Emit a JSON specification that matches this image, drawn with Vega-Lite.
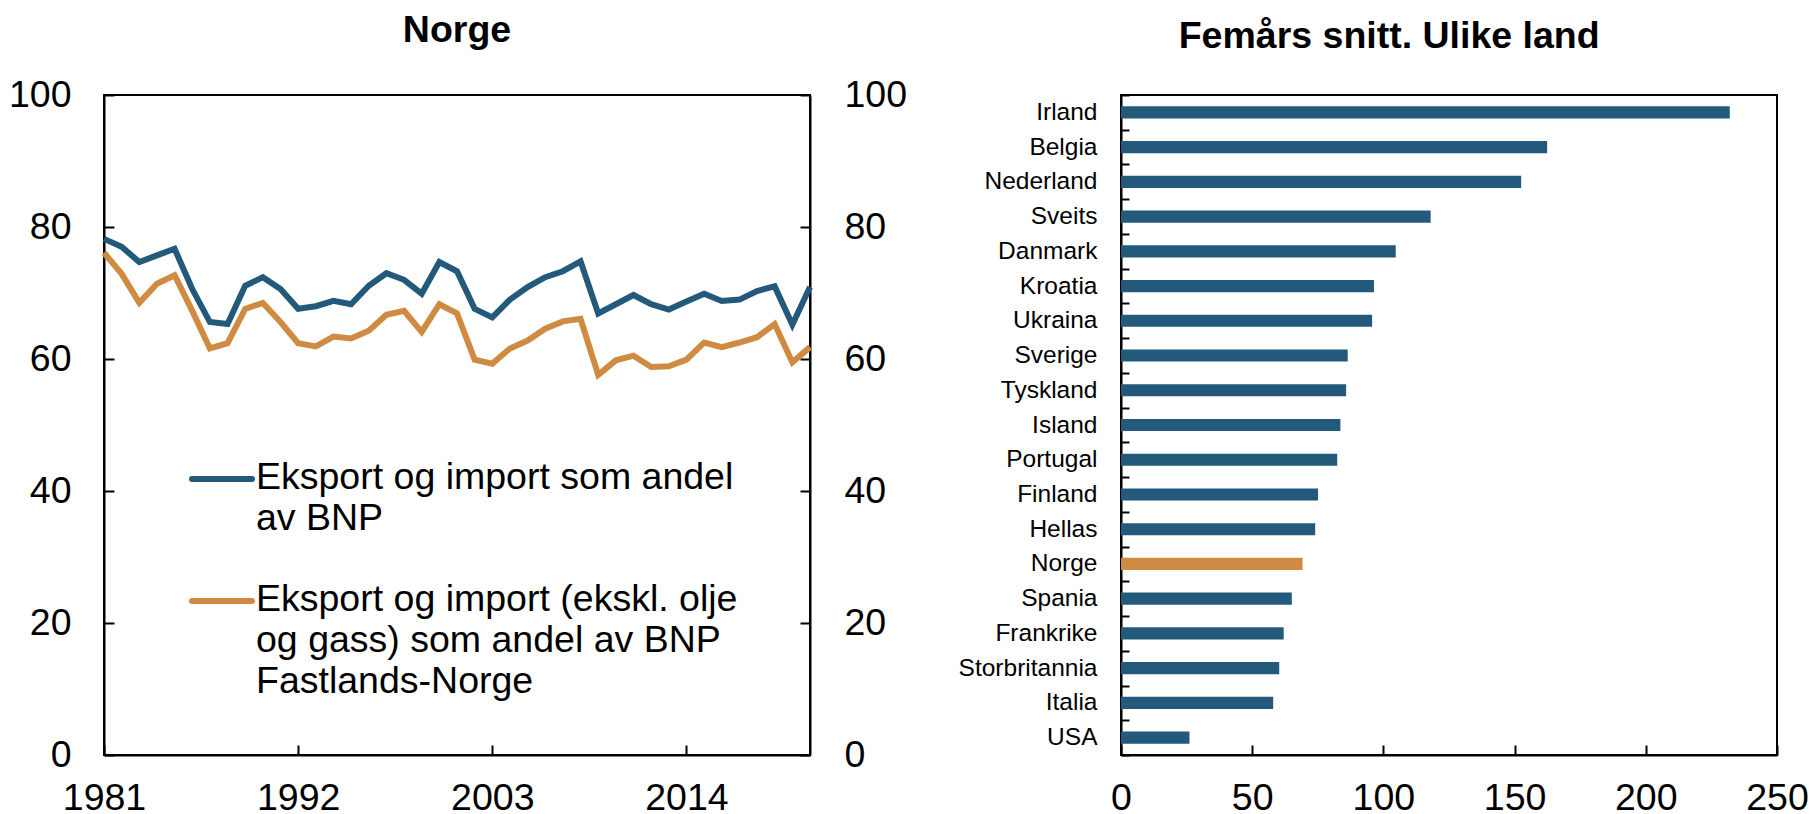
{
  "$schema": "https://vega.github.io/schema/vega-lite/v6.json",
  "padding": {"left": 7, "top": 10, "right": 0, "bottom": 0},
  "background": "white",
  "spacing": 49,
  "config": {
    "font": "Liberation Sans",
    "view": {"stroke": "black", "strokeWidth": 2},
    "axis": {"domainColor": "black", "domainWidth": 2, "tickColor": "black", "tickWidth": 2, "labelColor": "black", "grid": false, "title": null, "labelFont": "Liberation Sans"},
    "title": {"fontSize": 37.5, "fontWeight": "bold", "color": "black", "font": "Liberation Sans"},
    "style": {"guide-label": {"lineHeight": 41}}
  },
  "datasets": {
    "norge": [
      {"ar": 1981, "serie": "Eksport og import som andel av BNP", "verdi": 78.2},
      {"ar": 1982, "serie": "Eksport og import som andel av BNP", "verdi": 77.0},
      {"ar": 1983, "serie": "Eksport og import som andel av BNP", "verdi": 74.7},
      {"ar": 1984, "serie": "Eksport og import som andel av BNP", "verdi": 75.7},
      {"ar": 1985, "serie": "Eksport og import som andel av BNP", "verdi": 76.7},
      {"ar": 1986, "serie": "Eksport og import som andel av BNP", "verdi": 70.6},
      {"ar": 1987, "serie": "Eksport og import som andel av BNP", "verdi": 65.6},
      {"ar": 1988, "serie": "Eksport og import som andel av BNP", "verdi": 65.3},
      {"ar": 1989, "serie": "Eksport og import som andel av BNP", "verdi": 71.1},
      {"ar": 1990, "serie": "Eksport og import som andel av BNP", "verdi": 72.4},
      {"ar": 1991, "serie": "Eksport og import som andel av BNP", "verdi": 70.6},
      {"ar": 1992, "serie": "Eksport og import som andel av BNP", "verdi": 67.6},
      {"ar": 1993, "serie": "Eksport og import som andel av BNP", "verdi": 68.0},
      {"ar": 1994, "serie": "Eksport og import som andel av BNP", "verdi": 68.8},
      {"ar": 1995, "serie": "Eksport og import som andel av BNP", "verdi": 68.3},
      {"ar": 1996, "serie": "Eksport og import som andel av BNP", "verdi": 71.1},
      {"ar": 1997, "serie": "Eksport og import som andel av BNP", "verdi": 73.0},
      {"ar": 1998, "serie": "Eksport og import som andel av BNP", "verdi": 72.0},
      {"ar": 1999, "serie": "Eksport og import som andel av BNP", "verdi": 69.9},
      {"ar": 2000, "serie": "Eksport og import som andel av BNP", "verdi": 74.7},
      {"ar": 2001, "serie": "Eksport og import som andel av BNP", "verdi": 73.3},
      {"ar": 2002, "serie": "Eksport og import som andel av BNP", "verdi": 67.6},
      {"ar": 2003, "serie": "Eksport og import som andel av BNP", "verdi": 66.3},
      {"ar": 2004, "serie": "Eksport og import som andel av BNP", "verdi": 69.0},
      {"ar": 2005, "serie": "Eksport og import som andel av BNP", "verdi": 70.9},
      {"ar": 2006, "serie": "Eksport og import som andel av BNP", "verdi": 72.4},
      {"ar": 2007, "serie": "Eksport og import som andel av BNP", "verdi": 73.3},
      {"ar": 2008, "serie": "Eksport og import som andel av BNP", "verdi": 74.8},
      {"ar": 2009, "serie": "Eksport og import som andel av BNP", "verdi": 66.9},
      {"ar": 2010, "serie": "Eksport og import som andel av BNP", "verdi": 68.3},
      {"ar": 2011, "serie": "Eksport og import som andel av BNP", "verdi": 69.7},
      {"ar": 2012, "serie": "Eksport og import som andel av BNP", "verdi": 68.3},
      {"ar": 2013, "serie": "Eksport og import som andel av BNP", "verdi": 67.5},
      {"ar": 2014, "serie": "Eksport og import som andel av BNP", "verdi": 68.7},
      {"ar": 2015, "serie": "Eksport og import som andel av BNP", "verdi": 69.9},
      {"ar": 2016, "serie": "Eksport og import som andel av BNP", "verdi": 68.8},
      {"ar": 2017, "serie": "Eksport og import som andel av BNP", "verdi": 69.0},
      {"ar": 2018, "serie": "Eksport og import som andel av BNP", "verdi": 70.3},
      {"ar": 2019, "serie": "Eksport og import som andel av BNP", "verdi": 71.0},
      {"ar": 2020, "serie": "Eksport og import som andel av BNP", "verdi": 65.2},
      {"ar": 2021, "serie": "Eksport og import som andel av BNP", "verdi": 70.9},
      {"ar": 1981, "serie": "Eksport og import (ekskl. olje og gass) som andel av BNP Fastlands-Norge", "verdi": 76.1},
      {"ar": 1982, "serie": "Eksport og import (ekskl. olje og gass) som andel av BNP Fastlands-Norge", "verdi": 72.9},
      {"ar": 1983, "serie": "Eksport og import (ekskl. olje og gass) som andel av BNP Fastlands-Norge", "verdi": 68.5},
      {"ar": 1984, "serie": "Eksport og import (ekskl. olje og gass) som andel av BNP Fastlands-Norge", "verdi": 71.4},
      {"ar": 1985, "serie": "Eksport og import (ekskl. olje og gass) som andel av BNP Fastlands-Norge", "verdi": 72.7},
      {"ar": 1986, "serie": "Eksport og import (ekskl. olje og gass) som andel av BNP Fastlands-Norge", "verdi": 67.3},
      {"ar": 1987, "serie": "Eksport og import (ekskl. olje og gass) som andel av BNP Fastlands-Norge", "verdi": 61.6},
      {"ar": 1988, "serie": "Eksport og import (ekskl. olje og gass) som andel av BNP Fastlands-Norge", "verdi": 62.4},
      {"ar": 1989, "serie": "Eksport og import (ekskl. olje og gass) som andel av BNP Fastlands-Norge", "verdi": 67.6},
      {"ar": 1990, "serie": "Eksport og import (ekskl. olje og gass) som andel av BNP Fastlands-Norge", "verdi": 68.5},
      {"ar": 1991, "serie": "Eksport og import (ekskl. olje og gass) som andel av BNP Fastlands-Norge", "verdi": 65.6},
      {"ar": 1992, "serie": "Eksport og import (ekskl. olje og gass) som andel av BNP Fastlands-Norge", "verdi": 62.4},
      {"ar": 1993, "serie": "Eksport og import (ekskl. olje og gass) som andel av BNP Fastlands-Norge", "verdi": 61.9},
      {"ar": 1994, "serie": "Eksport og import (ekskl. olje og gass) som andel av BNP Fastlands-Norge", "verdi": 63.4},
      {"ar": 1995, "serie": "Eksport og import (ekskl. olje og gass) som andel av BNP Fastlands-Norge", "verdi": 63.1},
      {"ar": 1996, "serie": "Eksport og import (ekskl. olje og gass) som andel av BNP Fastlands-Norge", "verdi": 64.3},
      {"ar": 1997, "serie": "Eksport og import (ekskl. olje og gass) som andel av BNP Fastlands-Norge", "verdi": 66.7},
      {"ar": 1998, "serie": "Eksport og import (ekskl. olje og gass) som andel av BNP Fastlands-Norge", "verdi": 67.3},
      {"ar": 1999, "serie": "Eksport og import (ekskl. olje og gass) som andel av BNP Fastlands-Norge", "verdi": 64.1},
      {"ar": 2000, "serie": "Eksport og import (ekskl. olje og gass) som andel av BNP Fastlands-Norge", "verdi": 68.3},
      {"ar": 2001, "serie": "Eksport og import (ekskl. olje og gass) som andel av BNP Fastlands-Norge", "verdi": 66.9},
      {"ar": 2002, "serie": "Eksport og import (ekskl. olje og gass) som andel av BNP Fastlands-Norge", "verdi": 59.9},
      {"ar": 2003, "serie": "Eksport og import (ekskl. olje og gass) som andel av BNP Fastlands-Norge", "verdi": 59.3},
      {"ar": 2004, "serie": "Eksport og import (ekskl. olje og gass) som andel av BNP Fastlands-Norge", "verdi": 61.6},
      {"ar": 2005, "serie": "Eksport og import (ekskl. olje og gass) som andel av BNP Fastlands-Norge", "verdi": 62.8},
      {"ar": 2006, "serie": "Eksport og import (ekskl. olje og gass) som andel av BNP Fastlands-Norge", "verdi": 64.6},
      {"ar": 2007, "serie": "Eksport og import (ekskl. olje og gass) som andel av BNP Fastlands-Norge", "verdi": 65.7},
      {"ar": 2008, "serie": "Eksport og import (ekskl. olje og gass) som andel av BNP Fastlands-Norge", "verdi": 66.1},
      {"ar": 2009, "serie": "Eksport og import (ekskl. olje og gass) som andel av BNP Fastlands-Norge", "verdi": 57.6},
      {"ar": 2010, "serie": "Eksport og import (ekskl. olje og gass) som andel av BNP Fastlands-Norge", "verdi": 59.8},
      {"ar": 2011, "serie": "Eksport og import (ekskl. olje og gass) som andel av BNP Fastlands-Norge", "verdi": 60.5},
      {"ar": 2012, "serie": "Eksport og import (ekskl. olje og gass) som andel av BNP Fastlands-Norge", "verdi": 58.8},
      {"ar": 2013, "serie": "Eksport og import (ekskl. olje og gass) som andel av BNP Fastlands-Norge", "verdi": 58.9},
      {"ar": 2014, "serie": "Eksport og import (ekskl. olje og gass) som andel av BNP Fastlands-Norge", "verdi": 59.9},
      {"ar": 2015, "serie": "Eksport og import (ekskl. olje og gass) som andel av BNP Fastlands-Norge", "verdi": 62.5},
      {"ar": 2016, "serie": "Eksport og import (ekskl. olje og gass) som andel av BNP Fastlands-Norge", "verdi": 61.8},
      {"ar": 2017, "serie": "Eksport og import (ekskl. olje og gass) som andel av BNP Fastlands-Norge", "verdi": 62.5},
      {"ar": 2018, "serie": "Eksport og import (ekskl. olje og gass) som andel av BNP Fastlands-Norge", "verdi": 63.3},
      {"ar": 2019, "serie": "Eksport og import (ekskl. olje og gass) som andel av BNP Fastlands-Norge", "verdi": 65.3},
      {"ar": 2020, "serie": "Eksport og import (ekskl. olje og gass) som andel av BNP Fastlands-Norge", "verdi": 59.5},
      {"ar": 2021, "serie": "Eksport og import (ekskl. olje og gass) som andel av BNP Fastlands-Norge", "verdi": 61.8}
    ],
    "land": [
      {"land": "Irland", "verdi": 232.0},
      {"land": "Belgia", "verdi": 162.4},
      {"land": "Nederland", "verdi": 152.5},
      {"land": "Sveits", "verdi": 118.0},
      {"land": "Danmark", "verdi": 104.7},
      {"land": "Kroatia", "verdi": 96.4},
      {"land": "Ukraina", "verdi": 95.7},
      {"land": "Sverige", "verdi": 86.4},
      {"land": "Tyskland", "verdi": 85.8},
      {"land": "Island", "verdi": 83.6},
      {"land": "Portugal", "verdi": 82.4},
      {"land": "Finland", "verdi": 75.1},
      {"land": "Hellas", "verdi": 74.0},
      {"land": "Norge", "verdi": 69.2},
      {"land": "Spania", "verdi": 65.1},
      {"land": "Frankrike", "verdi": 62.0},
      {"land": "Storbritannia", "verdi": 60.3},
      {"land": "Italia", "verdi": 58.0},
      {"land": "USA", "verdi": 26.1}
    ]
  },
  "hconcat": [
    {
      "width": 706,
      "height": 660,
      "title": {"text": "Norge", "anchor": "middle", "frame": "group", "offset": 27},
      "data": {"name": "norge"},
      "layer": [
        {
          "mark": {"type": "line", "strokeWidth": 6},
          "encoding": {
            "x": {"field": "ar", "type": "quantitative", "scale": {"domain": [1981, 2021], "nice": false, "zero": false},
                  "axis": {"values": [1981, 1992, 2003, 2014], "format": "d", "labelFontSize": 37.5, "tickSize": -10, "labelPadding": 34, "labelFlush": false}},
            "y": {"field": "verdi", "type": "quantitative", "scale": {"domain": [0, 100], "nice": false},
                  "axis": {"values": [0, 20, 40, 60, 80, 100], "labelFontSize": 37.5, "tickSize": -10, "labelPadding": 43}},
            "color": {"field": "serie", "type": "nominal",
                      "scale": {"domain": ["Eksport og import som andel av BNP", "Eksport og import (ekskl. olje og gass) som andel av BNP Fastlands-Norge"], "range": ["#235a7b", "#cf8b41"]},
                      "legend": {
                        "title": null, "orient": "none", "legendX": 85, "legendY": 351,
                        "labelFontSize": 37.5, "labelLimit": 0, "labelColor": "black",
                        "symbolType": "stroke", "symbolSize": 3600, "symbolStrokeWidth": 6,
                        "labelBaseline": "top", "labelOffset": 1, "rowPadding": 31, "padding": 0,
                        "labelExpr": "datum.label == 'Eksport og import som andel av BNP' ? ['Eksport og import som andel', 'av BNP'] : ['Eksport og import (ekskl. olje', 'og gass) som andel av BNP', 'Fastlands-Norge']",
                        "encoding": {"labels": {"dy": {"value": -20.5}}, "symbols": {"strokeCap": {"value": "round"}}}
                      }}
          }
        },
        {
          "mark": {"type": "line", "opacity": 0},
          "encoding": {
            "x": {"field": "ar", "type": "quantitative"},
            "y": {"field": "verdi", "type": "quantitative", "scale": {"domain": [0, 100], "nice": false},
                  "axis": {"orient": "right", "values": [0, 20, 40, 60, 80, 100], "labelFontSize": 37.5, "tickSize": -10, "labelPadding": 44}},
            "detail": {"field": "serie"}
          }
        }
      ],
      "resolve": {"scale": {"y": "independent"}}
    },
    {
      "width": 656,
      "height": 660,
      "title": {"text": "Femårs snitt. Ulike land", "anchor": "middle", "frame": "bounds", "offset": 27, "dx": 6},
      "data": {"name": "land"},
      "mark": {"type": "bar", "height": {"band": 0.35}},
      "encoding": {
        "y": {"field": "land", "type": "nominal", "sort": {"field": "verdi", "order": "descending"},
              "scale": {"paddingInner": 0, "paddingOuter": 0},
              "axis": {"labelFontSize": 24.5, "tickSize": -8, "tickBand": "extent", "labelPadding": 32}},
        "x": {"field": "verdi", "type": "quantitative", "scale": {"domain": [0, 250], "nice": false},
              "axis": {"values": [0, 50, 100, 150, 200, 250], "labelFontSize": 37.5, "tickSize": -10, "labelPadding": 34, "labelFlush": false}},
        "color": {"condition": {"test": "datum.land === 'Norge'", "value": "#cf8b41"}, "value": "#235a7b"}
      }
    }
  ]
}
